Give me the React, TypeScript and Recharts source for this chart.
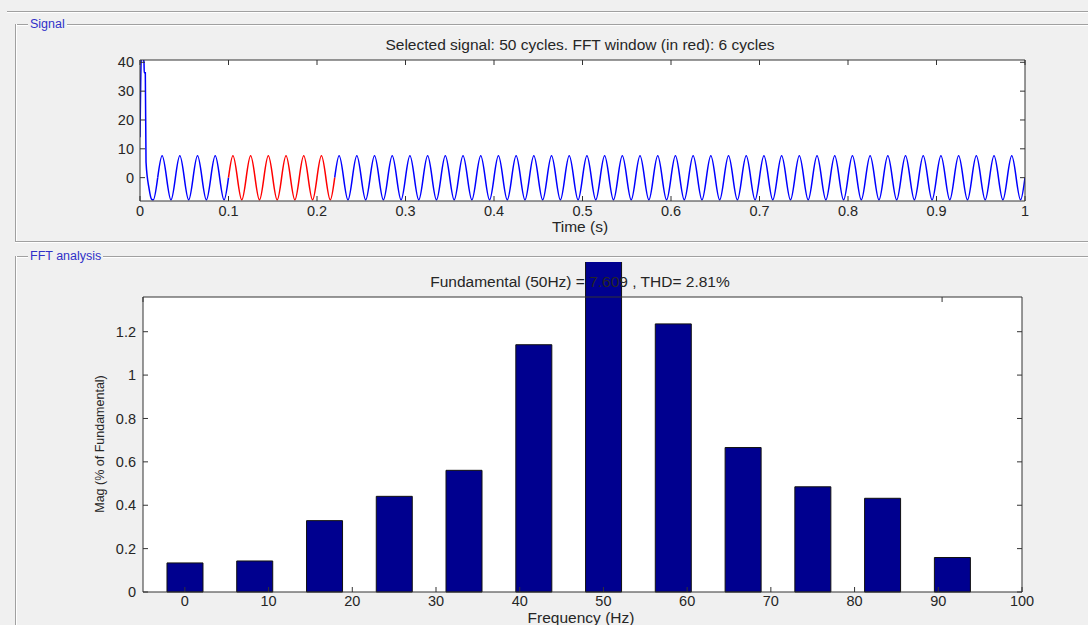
import React from "react";
import { LineChart, Line, BarChart, Bar, XAxis, YAxis, CartesianGrid } from "recharts";

// ---- Signal panel ----
const timeTicks = [0, 0.1, 0.2, 0.3, 0.4, 0.5, 0.6, 0.7, 0.8, 0.9, 1];
const signalTicks = [0, 10, 20, 30, 40];
const signalDomain = [-8.1, 40.8];

// start-up spike, read point by point
const transientTime = [0, 0.0008, 0.0015, 0.003, 0.0045, 0.0048, 0.006, 0.0068, 0.0102, 0.0132, 0.015, 0.02];
const transientValue = [14, 33, 42, 42, 40, 36.4, 36.4, 5.4, -3.7, -7.5, -7.7, 0];

// peak / trough of each following 50 Hz cycle (cycles 2..50)
const cyclePeaks = [
  7.6, 7.6, 7.6, 7.6, 7.6, 7.6, 7.6, 7.6, 7.6, 7.6,
  7.6, 7.6, 7.6, 7.6, 7.6, 7.6, 7.6, 7.6, 7.6, 7.6,
  7.6, 7.6, 7.6, 7.6, 7.6, 7.6, 7.6, 7.6, 7.6, 7.6,
  7.6, 7.6, 7.6, 7.6, 7.6, 7.6, 7.6, 7.6, 7.6, 7.6,
  7.6, 7.6, 7.6, 7.6, 7.6, 7.6, 7.6, 7.6, 7.6,
];
const cycleTroughs = [
  -7.7, -7.7, -7.7, -7.7, -7.7, -7.7, -7.7, -7.7, -7.7, -7.7,
  -7.7, -7.7, -7.7, -7.7, -7.7, -7.7, -7.7, -7.7, -7.7, -7.7,
  -7.7, -7.7, -7.7, -7.7, -7.7, -7.7, -7.7, -7.7, -7.7, -7.7,
  -7.7, -7.7, -7.7, -7.7, -7.7, -7.7, -7.7, -7.7, -7.7, -7.7,
  -7.7, -7.7, -7.7, -7.7, -7.7, -7.7, -7.7, -7.7, -7.7,
];
const period = 0.02;
const fftWindow = [0.1, 0.22];

// ---- FFT panel ----
const freqs = [0, 8.33, 16.67, 25, 33.33, 41.67, 50, 58.33, 66.67, 75, 83.33, 91.67];
const mags = [0.134, 0.143, 0.329, 0.441, 0.561, 1.14, 100, 1.236, 0.666, 0.485, 0.432, 0.159];
const freqTicks = [0, 10, 20, 30, 40, 50, 60, 70, 80, 90, 100];
const magTicks = [0, 0.2, 0.4, 0.6, 0.8, 1, 1.2];
const magDomain = [0, 1.36];

const transientData = transientTime.map((t, i) => ({ t, v: transientValue[i] }));
const steadyData: { t: number; v: number }[] = [];
cyclePeaks.forEach((p, i) => {
  const t0 = (i + 1) * period;
  steadyData.push(
    { t: t0, v: 0 },
    { t: t0 + period / 4, v: p },
    { t: t0 + period / 2, v: 0 },
    { t: t0 + (3 * period) / 4, v: cycleTroughs[i] }
  );
});
steadyData.push({ t: 1, v: 0 });
const eps = 1e-9;
const beforeWindow = steadyData.filter((d) => d.t <= fftWindow[0] + eps);
const redData = steadyData.filter((d) => d.t >= fftWindow[0] - eps && d.t <= fftWindow[1] + eps);
const afterWindow = steadyData.filter((d) => d.t >= fftWindow[1] - eps);

const fftData = freqs.map((f, i) => ({ f, m: mags[i] }));

const FONT = "'Liberation Sans', Arial, sans-serif";
const AX = "#333";
const tickStyle = { fill: "#262626", fontSize: 14.5 };
const blank = () => "";

function Text({ x, y, children, size = 15.5, color = "#262626", rotate = false }: any) {
  return (
    <div
      style={{
        position: "absolute",
        left: x,
        top: y,
        transform: `translate(-50%, -50%)${rotate ? " rotate(-90deg)" : ""}`,
        fontSize: size,
        lineHeight: 1,
        whiteSpace: "nowrap",
        color,
      }}
    >
      {children}
    </div>
  );
}

function HLine({ x, y, w }: any) {
  return (
    <div style={{ position: "absolute", left: x, top: y, width: w, height: 1, background: "#a0a0a0", borderBottom: "1px solid #fff" }} />
  );
}
function VLine({ x, y, h }: any) {
  return (
    <div style={{ position: "absolute", left: x, top: y, width: 1, height: h, background: "#a0a0a0", borderRight: "1px solid #fff" }} />
  );
}
function PanelTitle({ x, y, children }: any) {
  return (
    <div
      style={{
        position: "absolute",
        left: x,
        top: y,
        transform: "translateY(-50%)",
        fontSize: 12.5,
        lineHeight: 1,
        color: "#3030c8",
        background: "#f0f0f0",
        padding: "0 2px",
      }}
    >
      {children}
    </div>
  );
}

const sigLine = (data: any, color: string, type: any, key: string) => (
  <Line key={key} xAxisId="b" yAxisId="l" data={data} dataKey="v" type={type} stroke={color} strokeWidth={1.5}
    dot={false} isAnimationActive={false} />
);

export default function App() {
  return (
    <div
      style={{
        position: "absolute",
        left: 0,
        top: 0,
        width: 1088,
        height: 625,
        background: "#f0f0f0",
        overflow: "hidden",
        fontFamily: FONT,
      }}
    >
      <style>{`.fft .recharts-bar-rectangles { clip-path: none !important; }`}</style>
      <HLine x={7} y={11} w={1081} />
      <HLine x={15} y={24} w={1073} />
      <VLine x={15} y={24} h={217} />
      <HLine x={15} y={241} w={1073} />
      <HLine x={15} y={256} w={1073} />
      <VLine x={15} y={256} h={369} />

      <div style={{ position: "absolute", left: 0, top: 0 }}>
        <LineChart width={1088} height={240} margin={{ top: 59, right: 62, bottom: 0, left: 0 }}>
          <CartesianGrid xAxisId="b" yAxisId="l" fill="#fff" horizontal={false} vertical={false} />
          <XAxis xAxisId="b" dataKey="t" type="number" domain={[0, 1]} ticks={timeTicks} allowDataOverflow interval={0}
            height={39} tickSize={-5} tickMargin={10} stroke={AX} tick={tickStyle} />
          <XAxis xAxisId="t" orientation="top" dataKey="t" type="number" domain={[0, 1]} ticks={timeTicks} allowDataOverflow
            interval={0} height={1} tickSize={-5} stroke={AX} tickFormatter={blank} />
          <YAxis yAxisId="l" type="number" domain={signalDomain} ticks={signalTicks} allowDataOverflow interval={0}
            width={140} tickSize={-5} tickMargin={11} stroke={AX} tick={tickStyle} />
          <YAxis yAxisId="r" orientation="right" type="number" domain={signalDomain} ticks={signalTicks} allowDataOverflow
            interval={0} width={1} tickSize={-5} stroke={AX} tickFormatter={blank} />
          {sigLine(transientData, "#0000ff", "monotone", "tr")}
          {sigLine(beforeWindow, "#0000ff", "natural", "b1")}
          {sigLine(afterWindow, "#0000ff", "natural", "b2")}
          {sigLine(redData, "#ff0000", "natural", "red")}
        </LineChart>
      </div>

      <div className="fft" style={{ position: "absolute", left: 0, top: 262, width: 1088, height: 363, overflow: "hidden" }}>
        <BarChart width={1088} height={363} data={fftData} margin={{ top: 34, right: 65, bottom: 0, left: 0 }} barSize={36}>
          <CartesianGrid xAxisId="b" yAxisId="l" fill="#fff" horizontal={false} vertical={false} />
          <XAxis xAxisId="b" dataKey="f" type="number" domain={[-5, 100]} ticks={freqTicks} allowDataOverflow interval={0}
            height={33} tickSize={-5} tickMargin={9} stroke={AX} tick={tickStyle} />
          <XAxis xAxisId="t" orientation="top" type="number" domain={[-5, 100]} ticks={freqTicks} allowDataOverflow
            interval={0} height={1} tickSize={-5} stroke={AX} tickFormatter={blank} />
          <YAxis yAxisId="l" type="number" domain={magDomain} ticks={magTicks} allowDataOverflow interval={0}
            width={143} tickSize={-5} tickMargin={12} stroke={AX} tick={tickStyle} />
          <YAxis yAxisId="r" orientation="right" type="number" domain={magDomain} ticks={magTicks} allowDataOverflow
            interval={0} width={1} tickSize={-5} stroke={AX} tickFormatter={blank} />
          <Bar xAxisId="b" yAxisId="l" dataKey="m" fill="#00008f" stroke="#111" strokeWidth={1} isAnimationActive={false} />
        </BarChart>
      </div>

      <PanelTitle x={28} y={24}>Signal</PanelTitle>
      <PanelTitle x={28} y={256}>FFT analysis</PanelTitle>
      <Text x={580} y={45}>Selected signal: 50 cycles. FFT window (in red): 6 cycles</Text>
      <Text x={580} y={227}>Time (s)</Text>
      <Text x={580} y={282}>Fundamental (50Hz) = 7.609 , THD= 2.81%</Text>
      <Text x={581} y={618}>Frequency (Hz)</Text>
      <Text x={100} y={444} size={12.5} rotate>Mag (% of Fundamental)</Text>
    </div>
  );
}
